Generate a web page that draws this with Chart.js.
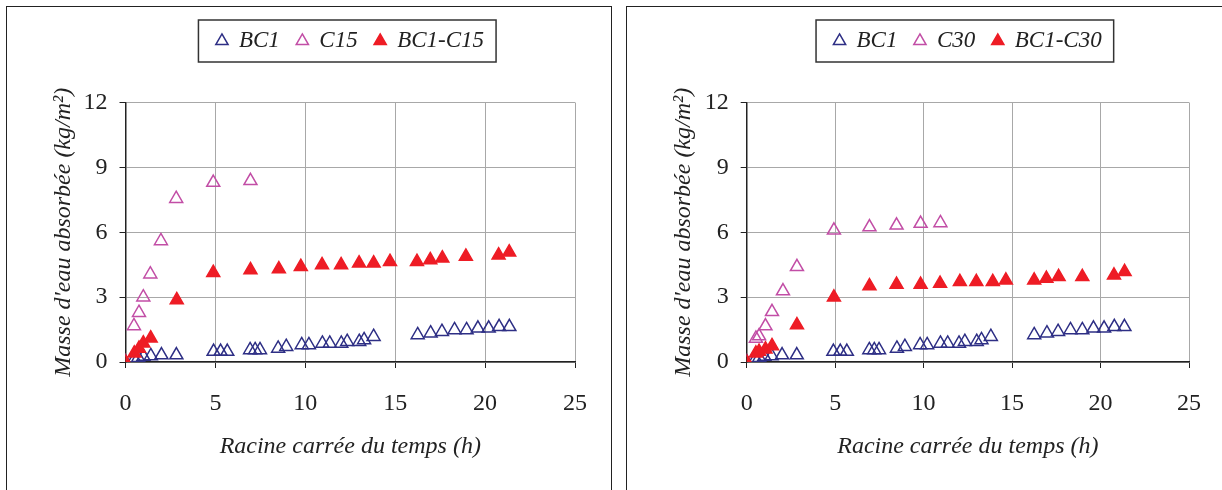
<!DOCTYPE html>
<html>
<head>
<meta charset="utf-8">
<script src="https://cdn.jsdelivr.net/npm/chart.js@4.4.1/dist/chart.umd.min.js"></script>
<style>
  body { margin: 0; background: #fff; width: 1222px; height: 490px; overflow: hidden; position: relative; }
  .panel { position: absolute; top: 6px; height: 500px; border: 1.5px solid #222; box-sizing: border-box; }
  #p1 { left: 6px; width: 606px; }
  #p2 { left: 626px; width: 620px; }
  canvas { position: absolute; }
  #c1 { left: 8px; top: 7px; }
  #c2 { left: 628px; top: 7px; }
</style>
</head>
<body>
<div class="panel" id="p1"></div>
<div class="panel" id="p2"></div>
<canvas id="c1" width="600" height="483"></canvas>
<canvas id="c2" width="594" height="483"></canvas>
<script>
// racine carrée du temps (h) -> masse d'eau absorbée (kg/m²)
const bc1X = [0, 0.5, 0.71, 1.0, 1.41, 2.0, 2.83, 4.9, 5.29, 5.66, 6.93, 7.21, 7.48, 8.49, 8.94, 9.8, 10.2,
  10.95, 11.36, 12.0, 12.33, 13.0, 13.27, 13.8, 16.25, 16.97, 17.6, 18.3, 18.97, 19.6, 20.2, 20.78, 21.35];
const bc1Y = [0, 0.15, 0.2, 0.25, 0.28, 0.32, 0.32, 0.48, 0.48, 0.48, 0.56, 0.56, 0.56, 0.63, 0.71, 0.79, 0.79,
  0.86, 0.86, 0.86, 0.94, 0.94, 1.02, 1.17, 1.25, 1.33, 1.4, 1.48, 1.48, 1.56, 1.56, 1.63, 1.63];

const c15X = [0, 0.47, 0.75, 0.99, 1.38, 1.97, 2.82, 4.88, 6.95];
const c15Y = [0, 1.67, 2.28, 3.0, 4.06, 5.6, 7.55, 8.3, 8.38];

const bc1c15X = [0, 0.49, 0.75, 0.99, 1.4, 2.85, 4.88, 6.95, 8.53, 9.75, 10.93, 11.99, 12.99, 13.8, 14.71,
  16.21, 16.95, 17.62, 18.93, 20.75, 21.34];
const bc1c15Y = [0, 0.4, 0.63, 0.87, 1.1, 2.87, 4.13, 4.26, 4.3, 4.41, 4.49, 4.49, 4.57, 4.57, 4.64,
  4.64, 4.72, 4.8, 4.88, 4.94, 5.08];

const c30X = [0, 0.52, 0.7, 1.06, 1.43, 2.05, 2.84, 4.93, 6.94, 8.47, 9.83, 10.95];
const c30Y = [0, 1.09, 1.2, 1.66, 2.32, 3.28, 4.4, 6.09, 6.24, 6.32, 6.4, 6.43];

const bc1c30X = [0, 0.52, 0.7, 1.06, 1.43, 2.84, 4.93, 6.94, 8.47, 9.83, 10.93, 12.05, 12.98, 13.91, 14.65,
  16.25, 16.94, 17.63, 18.97, 20.76, 21.36];
const bc1c30Y = [0, 0.4, 0.48, 0.59, 0.74, 1.71, 2.99, 3.51, 3.58, 3.58, 3.63, 3.71, 3.71, 3.71, 3.78,
  3.78, 3.86, 3.94, 3.94, 4.01, 4.17];

const xTicks = [0, 5, 10, 15, 20, 25];
const yTicks = [0, 3, 6, 9, 12];

const NAVY = '#2e2f85';
const MAGENTA = '#c24ea6';
const RED = '#ee1c25';
const SERIF = 'Liberation Serif';

function pts(xs, ys) {
  return xs.map((x, i) => ({ x: x, y: ys[i] }));
}

// legende encadree, centree sur la zone de trace
const legendBox = {
  id: 'legendBox',
  afterLayout(chart, args, opts) {
    const lg = chart.legend;
    const dx = (chart.chartArea.left + chart.chartArea.right) / 2 - (lg.left + lg.right) / 2;
    lg.left += dx; lg.right += dx;
    const dy = opts.top - lg.top;
    lg.top += dy; lg.bottom += dy;
  },
  afterDraw(chart) {
    const hb = chart.legend.legendHitBoxes;
    if (!hb || !hb.length) return;
    const first = hb[0], last = hb[hb.length - 1];
    const midY = first.top + first.height / 2;
    const ctx = chart.ctx;
    ctx.save();
    ctx.strokeStyle = '#333';
    ctx.lineWidth = 1.5;
    ctx.strokeRect(first.left - 18, midY - 21, last.left + last.width - first.left + 30, 42);
    ctx.restore();
  }
};

function makeChart(id, names, series, yAxisW, padRight) {
  const styles = [
    { color: NAVY, fill: 'rgba(255,255,255,0)', order: 1 },
    { color: MAGENTA, fill: 'rgba(255,255,255,0)', order: 2 },
    { color: RED, fill: RED, order: 0 }
  ];
  return new Chart(document.getElementById(id), {
    type: 'scatter',
    data: {
      datasets: series.map((s, i) => ({
        label: names[i],
        data: s,
        pointStyle: 'triangle',
        pointRadius: 7.5,
        pointHoverRadius: 7.5,
        borderWidth: 1.5,
        borderColor: styles[i].color,
        backgroundColor: styles[i].fill,
        order: styles[i].order
      }))
    },
    options: {
      responsive: false,
      animation: false,
      layout: { padding: { top: 45.5, right: padRight, bottom: 0, left: 0 } },
      plugins: {
        legendBox: { top: 5.5 },
        tooltip: { enabled: false },
        legend: {
          position: 'top',
          labels: {
            usePointStyle: true,
            boxWidth: 11,
            boxHeight: 10,
            padding: 17,
            color: '#222',
            font: { family: SERIF, size: 23, style: 'italic' },
            sort: (a, b) => a.datasetIndex - b.datasetIndex
          }
        }
      },
      scales: {
        x: {
          type: 'linear',
          min: 0, max: 25,
          afterBuildTicks: (scale) => { scale.ticks = xTicks.map(v => ({ value: v })); },
          afterFit: (scale) => { scale.height = 128; },
          grid: { color: '#a8a8a8', lineWidth: 1, tickColor: '#222', tickLength: 6 },
          border: { color: '#222', width: 1.5 },
          ticks: { color: '#222', padding: 21, font: { family: SERIF, size: 24 } },
          title: {
            display: true,
            text: 'Racine carrée du temps (h)',
            color: '#222',
            padding: { top: 0, bottom: 29 },
            font: { family: SERIF, size: 24, style: 'italic' }
          }
        },
        y: {
          type: 'linear',
          min: 0, max: 12,
          afterBuildTicks: (scale) => { scale.ticks = yTicks.map(v => ({ value: v })); },
          afterFit: (scale) => { scale.width = yAxisW; },
          grid: { color: '#a8a8a8', lineWidth: 1, tickColor: '#222', tickLength: 6 },
          border: { color: '#222', width: 1.5 },
          ticks: { color: '#222', padding: 12, font: { family: SERIF, size: 24 } },
          title: {
            display: true,
            text: "Masse d'eau absorbée (kg/m²)",
            color: '#222',
            padding: { top: 41, bottom: 0 },
            font: { family: SERIF, size: 24, style: 'italic' }
          }
        }
      }
    },
    plugins: [legendBox]
  });
}

function drawAll() {
  makeChart('c1', ['BC1', 'C15', 'BC1-C15'],
    [pts(bc1X, bc1Y), pts(c15X, c15Y), pts(bc1c15X, bc1c15Y)], 117.5, 32.7);
  makeChart('c2', ['BC1', 'C30', 'BC1-C30'],
    [pts(bc1X, bc1Y), pts(c30X, c30Y), pts(bc1c30X, bc1c30Y)], 118.7, 28);
}

// s'assurer que la police est prete avant de dessiner sur le canvas
Promise.all([
  document.fonts.load('24px "Liberation Serif"'),
  document.fonts.load('italic 24px "Liberation Serif"')
]).then(drawAll, drawAll);
</script>
</body>
</html>
